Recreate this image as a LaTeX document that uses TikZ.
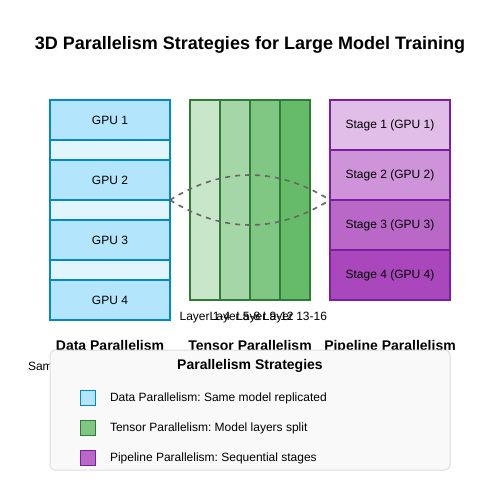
\documentclass[tikz,border=0pt]{standalone}
\usepackage{fontspec}
\setmainfont{Liberation Sans}
\frenchspacing
\definecolor{dpBorder}{HTML}{0288D1}
\definecolor{dpFill}{HTML}{B3E5FC}
\definecolor{dpLight}{HTML}{E1F5FE}
\definecolor{tpBorder}{HTML}{2E7D32}
\definecolor{tpA}{HTML}{C8E6C9}
\definecolor{tpB}{HTML}{A5D6A7}
\definecolor{tpC}{HTML}{81C784}
\definecolor{tpD}{HTML}{66BB6A}
\definecolor{ppBorder}{HTML}{7B1FA2}
\definecolor{ppA}{HTML}{E1BEE7}
\definecolor{ppB}{HTML}{CE93D8}
\definecolor{ppC}{HTML}{BA68C8}
\definecolor{ppD}{HTML}{AB47BC}
\definecolor{legFill}{HTML}{F9F9F9}
\definecolor{legBorder}{HTML}{DDDDDD}
\definecolor{flowGray}{HTML}{666666}
\begin{document}
\frenchspacing
\begin{tikzpicture}[x=1pt,y=-1pt, outer sep=0pt,
  txt/.style={font=\fontsize{12}{14}\selectfont, text=black, inner sep=0pt},
  hdr/.style={font=\bfseries\fontsize{14}{17}\selectfont, text=black, inner sep=0pt},
  cell/.style={anchor=north west, inner sep=0pt, outer sep=0pt, line width=2pt, minimum width=120pt,
    font=\fontsize{12}{14}\selectfont},
  gpubox/.style={cell, draw=dpBorder, fill=dpFill, minimum height=40pt},
  gapbox/.style={cell, draw=dpBorder, fill=dpLight, minimum height=20pt},
  strip/.style={anchor=north west, inner sep=0pt, outer sep=0pt, line width=2pt, draw=tpBorder,
    minimum width=30pt, minimum height=200pt},
  stagebox/.style={cell, draw=ppBorder, minimum height=50pt},
  swatch/.style={anchor=north west, inner sep=0pt, outer sep=0pt, line width=1pt,
    minimum width=15pt, minimum height=15pt},
  flow/.style={draw=flowGray, line width=1.6pt, dash pattern=on 5pt off 5pt}
]
\useasboundingbox (0,0) rectangle (500,500);
\fill[white] (0,0) rectangle (500,500);

\node[anchor=base, font=\bfseries\fontsize{18}{22}\selectfont, inner sep=0pt] (title) at (250,50)
  {3D Parallelism Strategies for Large Model Training};

% Data parallelism
\node[gpubox] (g1) at (50,100) {GPU 1};
\node[gapbox] (d1) at (50,140) {};
\node[gpubox] (g2) at (50,160) {GPU 2};
\node[gapbox] (d2) at (50,200) {};
\node[gpubox] (g3) at (50,220) {GPU 3};
\node[gapbox] (d3) at (50,260) {};
\node[gpubox] (g4) at (50,280) {GPU 4};

% Tensor parallelism
\node[strip, fill=tpA] (t1) at (190,100) {};
\node[strip, fill=tpB] (t2) at (220,100) {};
\node[strip, fill=tpC] (t3) at (250,100) {};
\node[strip, fill=tpD] (t4) at (280,100) {};
\node[anchor=north west, inner sep=0pt, outer sep=0pt, line width=2pt, draw=tpBorder,
  minimum width=120pt, minimum height=200pt] (tensor) at (190,100) {};
\node[txt, anchor=base] (l1) at (205,320) {Layer 1-4};
\node[txt, anchor=base] (l2) at (235,320) {Layer 5-8};
\node[txt, anchor=base] (l3) at (265,320) {Layer 9-12};
\node[txt, anchor=base] (l4) at (295,320) {Layer 13-16};

% Pipeline parallelism
\node[stagebox, fill=ppA] (s1) at (330,100) {Stage 1 (GPU 1)};
\node[stagebox, fill=ppB] (s2) at (330,150) {Stage 2 (GPU 2)};
\node[stagebox, fill=ppC] (s3) at (330,200) {Stage 3 (GPU 3)};
\node[stagebox, fill=ppD] (s4) at (330,250) {Stage 4 (GPU 4)};

% Flow curves
\draw[flow] (g2.south east) .. controls +(53.33,-33.33) and +(-53.33,-33.33) .. (s2.south west);
\draw[flow] (g2.south east) .. controls +(53.33,33.33) and +(-53.33,33.33) .. (s2.south west);

% Column titles
\node[hdr, anchor=base] (h1) at (110,350) {Data Parallelism};
\node[hdr, anchor=base] (h2) at (250,350) {Tensor Parallelism};
\node[hdr, anchor=base] (h3) at (390,350) {Pipeline Parallelism};
\node[txt, anchor=base west] (sub1) at (28,370) {Same model, different data};

% Legend
\node[anchor=north west, inner sep=0pt, outer sep=0pt, draw=legBorder, fill=legFill, line width=1pt,
  rounded corners=5pt, minimum width=400pt, minimum height=120pt] (legend) at (50,350) {};
\node[hdr, anchor=base] (legtitle) at (250,369) {Parallelism Strategies};
\node[swatch, draw=dpBorder, fill=dpFill] (k1) at (80,390) {};
\node[txt, anchor=base west] (k1t) at (110,401) {Data Parallelism: Same model replicated};
\node[swatch, draw=tpBorder, fill=tpC] (k2) at (80,420) {};
\node[txt, anchor=base west] (k2t) at (110,431) {Tensor Parallelism: Model layers split};
\node[swatch, draw=ppBorder, fill=ppC] (k3) at (80,450) {};
\node[txt, anchor=base west] (k3t) at (110,461) {Pipeline Parallelism: Sequential stages};
\end{tikzpicture}
\end{document}
